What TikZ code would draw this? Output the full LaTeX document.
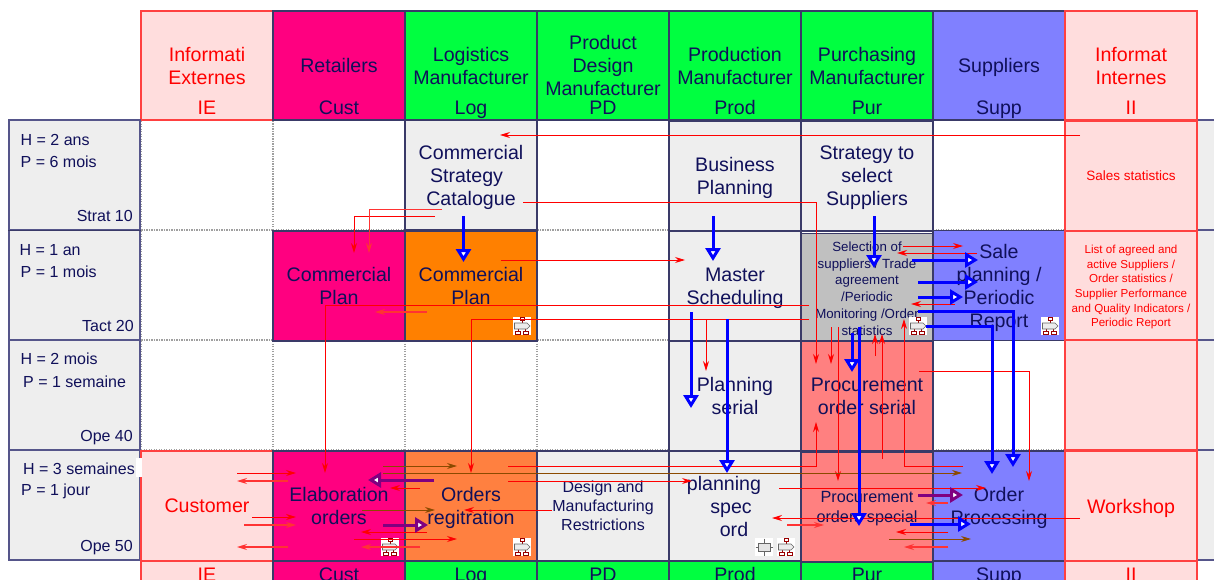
\documentclass[tikz,border=0pt]{standalone}
\usepackage{fontspec}
\setmainfont{Liberation Sans}
\usetikzlibrary{arrows.meta, positioning}

\definecolor{inknavy}{HTML}{10105A}
\definecolor{linenavy}{HTML}{3A3A68}
\definecolor{sidenavy}{HTML}{55558A}
\definecolor{retailpink}{HTML}{FF0080}
\definecolor{plantgreen}{HTML}{00FF40}
\definecolor{infopink}{HTML}{FFDDDD}
\definecolor{supplyblue}{HTML}{8080FF}
\definecolor{procsalmon}{HTML}{FF8080}
\definecolor{logorange}{HTML}{FF8000}
\definecolor{orderorange}{HTML}{FF8040}
\definecolor{paleGrey}{HTML}{EEEEEE}
\definecolor{midGrey}{HTML}{C0C0C0}
\definecolor{flowbrown}{HTML}{8B4A00}
\definecolor{flowpurple}{HTML}{800080}

\tikzset{
  bigfont/.style={font=\fontsize{19.6}{23}\selectfont},
  cellbox/.style={rectangle, draw=linenavy, line width=1.1pt, minimum width=132pt,
    minimum height=110pt, inner sep=0pt, align=center, text=inknavy, text depth=0pt, bigfont},
  blankcell/.style={cellbox, draw=gray!75, dash pattern=on 1pt off 1.5pt},
  infocell/.style={cellbox, draw=red!75, fill=infopink, text=red},
  labelcell/.style={cellbox, draw=sidenavy, fill=paleGrey, minimum width=131pt},
  rowtext/.style={text=inknavy, inner sep=0pt, font=\fontsize{16}{19}\selectfont},
  codetext/.style={anchor=base, inner sep=0pt, text=inknavy, bigfont},
  msg/.style={draw=red, line width=.9pt, -{Stealth[length=10pt,width=6pt]}},
  msgsoft/.style={msg, draw=red!80, line width=1.2pt},
  msgbrown/.style={msg, draw=flowbrown},
  flow/.style={draw=blue, line width=3pt, line cap=butt,
    -{Triangle[open,fill=white,length=13pt,width=15pt,line width=3pt]}},
  flowp/.style={flow, draw=flowpurple}
}
\newcommand\routeicon[2]{
  \begin{scope}[shift={(#1,#2)}]
    \fill[white] (0,0) rectangle (18,18);
    \draw[red!60!black, line width=.7pt] (7,.8) rectangle (11,3.6) (9,3.6) -- (9,6)
      (2.8,14) rectangle (7.6,17.2) (10.2,14) rectangle (15,17.2) (5,12) -- (5,14) (12.5,12) -- (12.5,14);
    \draw[gray!80!black, fill=gray!15, line width=.6pt] (1.5,6) -- (14,6) -- (17,9) -- (14,12) -- (1.5,12) -- cycle;
  \end{scope}
}
\newcommand\gaugeicon[2]{
  \begin{scope}[shift={(#1,#2)}]
    \fill[white] (0,0) rectangle (18,18);
    \draw[gray!80!black, fill=gray!20, line width=.6pt] (3,5) rectangle (15,13);
    \draw[gray!80!black, line width=.6pt] (9,.5) -- (9,5) (9,13) -- (9,17.5) (.5,9) -- (3,9) (15,9) -- (17.5,9);
  \end{scope}
}

\begin{document}
\begin{tikzpicture}[x=1pt,y=-1pt]
\path[use as bounding box, clip] (0,0) rectangle (1214,580);

% blank lanes
\foreach \n/\xc/\yc in {b11/207/175, b12/339/175, b14/603/175, b17/999/175,
    b21/207/285, b24/603/285,
    b31/207/395, b32/339/395, b33/471/395, b34/603/395, b37/999/395}
  \node[blankcell] (\n) at (\xc,\yc) {};

% right hand strip
\foreach \n/\yc in {e1/175, e2/285, e3/395, e4/505}
  \node[labelcell] (\n) at (1263,\yc) {};

% heads of the lanes
\node[infocell, minimum height=109pt] (hIE) at (207,65.5) {Informati\\Externes};
\node[cellbox, fill=retailpink, minimum height=109pt] (hCust) at (339,65.5) {Retailers};
\node[cellbox, fill=plantgreen, minimum height=109pt] (hLog) at (471,65.5) {Logistics\\Manufacturer};
\node[cellbox, fill=plantgreen, minimum height=109pt] (hPD) at (603,65.5) {Product\\Design\\Manufacturer};
\node[cellbox, fill=plantgreen, minimum height=109pt] (hProd) at (735,65.5) {Production\\Manufacturer};
\node[cellbox, fill=plantgreen, minimum height=109pt] (hPur) at (867,65.5) {Purchasing\\Manufacturer};
\node[cellbox, fill=supplyblue, minimum height=109pt] (hSupp) at (999,65.5) {Suppliers};
\node[infocell, minimum height=109pt] (hII) at (1131,65.5) {Informat\\Internes};

\node[codetext, text=red] (cIE) at (207,115) {IE};
\node[codetext] (cCust) at (339,115) {Cust};
\node[codetext] (cLog) at (471,115) {Log};
\node[codetext] (cPD) at (603,115) {PD};
\node[codetext] (cProd) at (735,115) {Prod};
\node[codetext] (cPur) at (867,115) {Pur};
\node[codetext] (cSupp) at (999,115) {Supp};
\node[codetext, text=red] (cII) at (1131,115) {II};

% feet of the lanes, cut by the page
\node[infocell] (fIE) at (207,616) {};
\node[cellbox, fill=retailpink] (fCust) at (339,616) {};
\node[cellbox, fill=plantgreen] (fLog) at (471,616) {};
\node[cellbox, fill=plantgreen] (fPD) at (603,616) {};
\node[cellbox, fill=plantgreen] (fProd) at (735,616) {};
\node[cellbox, fill=plantgreen] (fPur) at (867,616) {};
\node[cellbox, fill=supplyblue] (fSupp) at (999,616) {};
\node[infocell] (fII) at (1131,616) {};

\node[codetext, text=red] (dIE) at (207,581) {IE};
\node[codetext] (dCust) at (339,581) {Cust};
\node[codetext] (dLog) at (471,581) {Log};
\node[codetext] (dPD) at (603,581) {PD};
\node[codetext] (dProd) at (735,581) {Prod};
\node[codetext] (dPur) at (867,581) {Pur};
\node[codetext] (dSupp) at (999,581) {Supp};
\node[codetext, text=red] (dII) at (1131,581) {II};

% time levels
\node[labelcell] (lStrat) at (74.5,175) {};
\node[labelcell] (lTact) at (74.5,285) {};
\node[labelcell] (lOpeA) at (74.5,395) {};
\node[labelcell] (lOpeB) at (74.5,505) {};
\draw[linenavy, line width=1.8pt] (lStrat.south west) -- (lStrat.south east);

\node[rowtext, anchor=west] (t1h) at (20.5,140) {H = 2 ans};
\node[rowtext, anchor=west] (t1p) at (20.5,162) {P = 6 mois};
\node[rowtext, anchor=east] (t1n) at (133,216) {Strat 10};
\node[rowtext, anchor=west] (t2h) at (19.5,250) {H = 1 an};
\node[rowtext, anchor=west] (t2p) at (20.5,272) {P = 1 mois};
\node[rowtext, anchor=east] (t2n) at (134,326) {Tact 20};
\node[rowtext, anchor=west] (t3h) at (20.5,359) {H = 2 mois};
\node[rowtext, anchor=west] (t3p) at (23,382) {P = 1 semaine};
\node[rowtext, anchor=east] (t3n) at (133,437.5) {Ope 40};
\node[rowtext, anchor=east] (t4n) at (133,547.5) {Ope 50};

% first level
\node[cellbox, fill=paleGrey] (catalogue) at (471,175) {Commercial\\Strategy\kern9pt\\Catalogue};
\node[cellbox, fill=paleGrey] (business) at (735,176) {Business\\Planning};
\node[cellbox, fill=paleGrey] (strategy) at (867,176) {Strategy to\\select\\Suppliers};
\node[infocell, font=\fontsize{13.5}{16}\selectfont] (sales) at (1131,176) {Sales statistics};

% second level
\node[cellbox, fill=retailpink] (planC) at (339,286) {Commercial\\Plan};
\node[cellbox, fill=logorange] (planL) at (471,286) {Commercial\\Plan};
\node[cellbox, fill=paleGrey] (master) at (735,286) {Master\\Scheduling};
\node[cellbox, fill=midGrey, font=\fontsize{13.3}{16.7}\selectfont] (selection) at (867,288.5)
  {Selection of\\suppliers / Trade\\agreement\\/Periodic\\Monitoring /Order\\statistics};
\node[cellbox, fill=supplyblue] (report) at (999,285.5) {Sale\\planning /\\Periodic\\Report};
\node[infocell, font=\fontsize{11.6}{14.6}\selectfont] (listing) at (1131,286)
  {List of agreed and\\active Suppliers /\\Order statistics /\\Supplier Performance\\and Quality Indicators /\\Periodic Report};

% third level
\node[cellbox, fill=paleGrey] (serial) at (735,396) {Planning\\serial};
\node[cellbox, fill=procsalmon] (poserial) at (867,396) {Procurement\\order serial};
\node[infocell] (e33) at (1131,395) {};

% fourth level
\node[infocell] (customer) at (207,506) {Customer};
\node[cellbox, fill=retailpink] (elabo) at (339,506) {Elaboration\\orders};
\node[cellbox, fill=orderorange] (regit) at (471,506) {Orders\\regitration};
\node[cellbox, fill=paleGrey, font=\fontsize{16}{19}\selectfont] (design) at (603,506)
  {Design and\\Manufacturing\\Restrictions};
\node[cellbox, fill=paleGrey] (spec) at (735,506) {planning\kern22pt\\spec\kern8pt\\ord\kern2pt};
\node[cellbox, fill=procsalmon, font=\fontsize{16.2}{19.5}\selectfont] (special) at (867,507)
  {Procurement\\orders special};
\node[cellbox, fill=supplyblue] (process) at (999,506) {Order\\Processing};
\node[infocell] (workshop) at (1131,506) {Workshop};

\fill[white] (136,458) rectangle (142,477);
\node[rowtext, anchor=west] (t4h) at (23,469) {H = 3 semaines};
\node[rowtext, anchor=west] (t4p) at (21,491) {P = 1 jour};

% small icons
\foreach \px/\py in {513/317, 909/317, 1041/317, 381/538, 513/538, 777/538}{
  \routeicon{\px}{\py}
}
\gaugeicon{755}{538}

% straight messages
\foreach \n/\ax/\ay/\bx/\by in {a1/1080/135/500/135, a2/501/260/685/260,
    a3/903/246/963/246, a4/977/253/897/253, a5/955/304/911/304,
    a6/831/327/831/364, a7/838/327/838/481, a8/875/356/875/334, a9/882/459/882/334,
    a10/508/481/692/481, a11/420/488/390/488, a12/552/510/464/510,
    a13/427/532/361/532, a14/354/539/457/539, a15/237/473/296/473,
    a16/252/517/296/517, a17/779/488/986/488, a18/1080/518/772/518,
    a19/948/532/896/532}{
  \coordinate (\n s) at (\ax,\ay);
  \coordinate (\n e) at (\bx,\by);
  \draw[msg] (\n s) -- (\n e);
}
\foreach \n/\ax/\ay/\bx/\by in {s1/427/312/375/312, s2/288/481/237/481, s3/244/525/296/525,
    s4/288/547/237/547, s5/420/547/361/547, s6/787/525/824/525,
    s7/948/503/926/503, s8/948/547/904/547}{
  \coordinate (\n s) at (\ax,\ay);
  \coordinate (\n e) at (\bx,\by);
  \draw[msgsoft] (\n s) -- (\n e);
}
\foreach \n/\ax/\ay/\bx/\by in {m1/383/466/457/466, m2/383/473/962/473, m3/362/510/435/510,
    m4/889/539/971/539}{
  \coordinate (\n s) at (\ax,\ay);
  \coordinate (\n e) at (\bx,\by);
  \draw[msgbrown] (\n s) -- (\n e);
}

% messages with a corner
\foreach \n/\ax/\ay/\bx/\by in {c2/435/216/354/253, c3/523/202/816/364,
    c4/809/305/325/473, c5/809/319/471/473, c6/809/319/706/371,
    c7/963/466/904/319, c8/508/466/816/422, c9/919/371/1029/481}{
  \coordinate (\n s) at (\ax,\ay);
  \coordinate (\n e) at (\bx,\by);
  \draw[msg] (\n s) -| (\n e);
}
\coordinate (c1s) at (442,209);
\coordinate (c1e) at (369,253);
\draw[msgsoft, line width=.9pt] (c1s) -| (c1e);

% thick flows
\foreach \n/\ax/\ay/\bx/\by in {f1/463.5/216/463.5/262, f2/713/216/713/261, f3/874/216/874/268,
    f4/691/312/691/408, f5/727/319/727/473, f6/852/333/852/372, f7/859/327/859/526,
    f8/912/260/978/260, f9/918/282/978/282, f10/918/297/963/297, f11/910/524/971/524}{
  \coordinate (\n s) at (\ax,\ay);
  \coordinate (\n e) at (\bx,\by);
  \draw[flow] (\n s) -- (\n e);
}
\foreach \n/\ax/\ay/\bx/\by in {g1/918/311/1013/467, g2/926/326/992/474}{
  \coordinate (\n s) at (\ax,\ay);
  \coordinate (\n e) at (\bx,\by);
  \draw[flow] (\n s) -| (\n e);
}
\foreach \n/\ax/\ay/\bx/\by in {p1/434/480/368/480, p2/383/525/428/525, p3/918/495/963/495}{
  \coordinate (\n s) at (\ax,\ay);
  \coordinate (\n e) at (\bx,\by);
  \draw[flowp] (\n s) -- (\n e);
}
\end{tikzpicture}
\end{document}
